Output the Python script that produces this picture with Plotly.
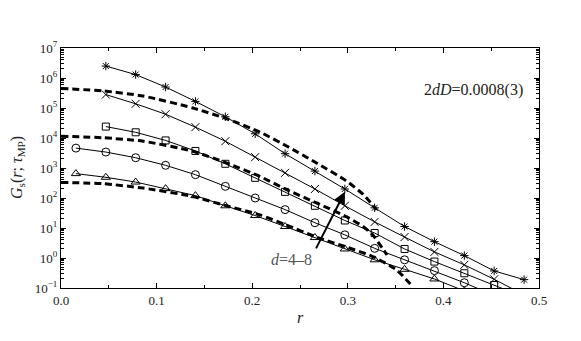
import plotly.graph_objects as go

# ---- data ----
r_from1 = [0.0156, 0.0469, 0.0781, 0.1094, 0.1406, 0.1719, 0.2031, 0.2344,
           0.2656, 0.2969, 0.3281, 0.3594, 0.3906, 0.4219, 0.4531, 0.4844]
r_from2 = r_from1[1:]

G_d8 = [2.5e6, 1.3e6, 5.0e5, 1.66e5, 5.1e4, 1.38e4, 3.0e3, 790, 200, 47, 11.2, 3.5, 1.2, 0.37, 0.19]
G_d7 = [2.8e5, 1.38e5, 6.2e4, 2.3e4, 7.8e3, 2.3e3, 690, 200, 55, 16, 5.0, 1.6, 0.59, 0.195, 0.059]
G_d6 = [2.4e4, 1.55e4, 8.3e3, 3.7e3, 1.38e3, 470, 160, 55, 17.8, 6.8, 2.0, 0.76, 0.31, 0.126, 0.05]
G_d5 = [4.6e3, 3.4e3, 2.2e3, 1.23e3, 600, 245, 100, 41, 15, 5.9, 2.1, 0.87, 0.38, 0.15, 0.056]
G_d4 = [650, 490, 340, 205, 120, 55, 26, 11.2, 4.8, 2.0, 0.87, 0.42, 0.20, 0.08]

fit_top_r = [0.0, 0.044, 0.086, 0.138, 0.173, 0.208, 0.236, 0.266, 0.298, 0.316, 0.330]
fit_top_G = [4.5e5, 3.7e5, 2.5e5, 1.0e5, 4.4e4, 1.58e4, 5.4e3, 1.55e3, 380, 132, 41]
fit_mid_r = [0.0, 0.044, 0.086, 0.138, 0.173, 0.208, 0.236, 0.267, 0.299, 0.316, 0.326, 0.341]
fit_mid_G = [1.15e4, 1.02e4, 7.8e3, 3.6e3, 1.48e3, 525, 190, 69, 23.4, 11.2, 5.9, 1.26]
fit_bot_r = [0.0, 0.044, 0.086, 0.138, 0.173, 0.208, 0.234, 0.267, 0.299, 0.326, 0.351, 0.368]
fit_bot_G = [330, 300, 214, 112, 55, 27.5, 13.2, 5.0, 2.3, 1.12, 0.40, 0.11]

x_ticks = [0.0, 0.1, 0.2, 0.3, 0.4, 0.5]
x_ticklabels = ["0.0", "0.1", "0.2", "0.3", "0.4", "0.5"]
y_exps = [-1, 0, 1, 2, 3, 4, 5, 6, 7]
y_ticklabels = ["10<sup>%d</sup>" % e if e >= 0 else "10<sup>\u22121</sup>" for e in y_exps]
y_ticks = [10.0 ** e for e in y_exps]
y_minor = [m * 10.0 ** e for e in y_exps[:-1] for m in range(2, 10)]

FONT = "Liberation Serif"

fig = go.Figure()

series = [
    (r_from2, G_d8, "asterisk-open", 7),
    (r_from2, G_d7, "x-thin-open", 8),
    (r_from2, G_d6, "square-open", 7),
    (r_from1, G_d5, "circle-open", 8),
    (r_from1, G_d4, "triangle-up-open", 8),
]
for xs, ys, sym, sz in series:
    fig.add_trace(go.Scatter(
        x=xs[:len(ys)], y=ys, mode="lines+markers",
        line=dict(color="black", width=1),
        marker=dict(symbol=sym, size=sz, color="black", line=dict(color="black", width=1)),
        showlegend=False))

for xs, ys in [(fit_top_r, fit_top_G), (fit_mid_r, fit_mid_G), (fit_bot_r, fit_bot_G)]:
    fig.add_trace(go.Scatter(
        x=xs, y=ys, mode="lines",
        line=dict(color="black", width=3, dash="7px,4px", shape="spline", smoothing=0.6),
        showlegend=False))

axis_common = dict(
    showline=True, linecolor="black", linewidth=1, mirror="allticks",
    ticks="inside", tickcolor="black", showgrid=False, zeroline=False,
    automargin=False,
    tickfont=dict(family=FONT, size=13, color="#222"),
)

fig.update_xaxes(range=[0, 0.5], tickvals=x_ticks, ticktext=x_ticklabels, ticklen=5,
                 minor=dict(tickvals=[0.05, 0.15, 0.25, 0.35, 0.45], ticklen=3,
                            ticks="inside", tickcolor="black"),
                 **axis_common)
fig.update_yaxes(type="log", range=[-1, 7], tickvals=y_ticks, ticktext=y_ticklabels, ticklen=5,
                 minor=dict(tickvals=y_minor, ticklen=3, ticks="inside", tickcolor="black"),
                 **axis_common)

fig.add_annotation(text="<i>G</i><sub>s</sub>(<i>r</i>; <i>\u03c4</i><sub>MP</sub>)",
                   xref="paper", yref="paper", x=-0.092, y=0.5, textangle=-90,
                   showarrow=False, font=dict(family=FONT, size=16, color="#222"),
                   xanchor="center", yanchor="middle")
fig.add_annotation(text="<i>r</i>", xref="paper", yref="paper", x=0.5, y=-0.121,
                   showarrow=False, font=dict(family=FONT, size=16, color="#222"),
                   xanchor="center", yanchor="middle")
fig.add_annotation(text="2<i>dD</i>=0.0008(3)", x=0.485, y=5.59, xref="x", yref="y",
                   showarrow=False, font=dict(family=FONT, size=16, color="#222"),
                   xanchor="right", yanchor="middle")
fig.add_annotation(text="<i>d</i>=4\u20138", x=0.265, y=-0.06, xref="x", yref="y",
                   showarrow=False, font=dict(family=FONT, size=16, color="#555"),
                   xanchor="right", yanchor="middle")
fig.add_annotation(text="", x=0.297, y=2.21, ax=0.266, ay=0.27,
                   xref="x", yref="y", axref="x", ayref="y",
                   showarrow=True, arrowhead=2, arrowsize=1.2, arrowwidth=2, arrowcolor="black")

fig.update_layout(
    width=581, height=341,
    margin=dict(l=53, r=50, t=40, b=61),
    plot_bgcolor="white", paper_bgcolor="white",
    font=dict(family=FONT),
)

fig.write_html("out.html")
